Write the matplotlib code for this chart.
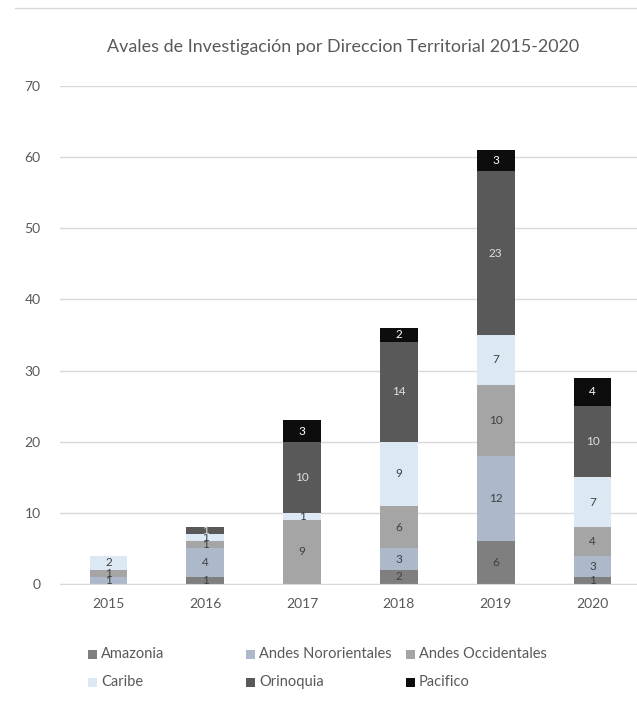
import numpy as np
import matplotlib.pyplot as plt
from matplotlib.patches import Rectangle
from matplotlib.lines import Line2D

plt.rcParams['font.family'] = ['Lato', 'DejaVu Sans']

years = ['2015', '2016', '2017', '2018', '2019', '2020']
amazonia = [0, 1, 0, 2, 6, 1]
andes_nororientales = [1, 4, 0, 3, 12, 3]
andes_occidentales = [1, 1, 9, 6, 10, 4]
caribe = [2, 1, 1, 9, 7, 7]
orinoquia = [0, 1, 10, 14, 23, 10]
pacifico = [0, 0, 3, 2, 3, 4]

series = [
    ('Amazonia', amazonia, '#7f7f7f', '#404040'),
    ('Andes Nororientales', andes_nororientales, '#adb9ca', '#404040'),
    ('Andes Occidentales', andes_occidentales, '#a5a5a5', '#404040'),
    ('Caribe', caribe, '#dde8f5', '#404040'),
    ('Orinoquia', orinoquia, '#595959', '#e0e0e0'),
    ('Pacifico', pacifico, '#0d0d0d', '#ffffff'),
]

W, H = 637, 701
fig = plt.figure(figsize=(W / 100, H / 100), dpi=100)
ax = fig.add_axes([60 / W, 1 - 584 / H, 581 / W, 498 / H])

x = np.arange(len(years))
bottom = np.zeros(len(years))
for name, vals, color, tcolor in series:
    vals = np.array(vals, dtype=float)
    bars = ax.bar(x, vals, 0.39, bottom=bottom, color=color, zorder=2)
    labels = [f'{int(v)}' if v > 0 else '' for v in vals]
    ax.bar_label(bars, labels=labels, label_type='center', fontsize=8.5,
                 color=tcolor)
    bottom += vals

ax.set_xlim(-0.5, len(years) - 0.5)
ax.set_ylim(0, 70)
ax.set_yticks(range(0, 71, 10))
ax.set_xticks(x)
ax.set_xticklabels(years)
ax.grid(axis='y', color='#d9d9d9', linewidth=1, zorder=0)
ax.set_axisbelow(True)
for s in ['top', 'right', 'left']:
    ax.spines[s].set_visible(False)
ax.spines['bottom'].set_color('#d9d9d9')
ax.tick_params(axis='both', length=0, colors='#595959', labelsize=10)
ax.tick_params(axis='y', pad=14)
ax.tick_params(axis='x', pad=10)

fig.text(343 / W, 1 - 47 / H, 'Avales de Investigación por Direccion Territorial 2015-2020',
         ha='center', va='center', fontsize=12.9, color='#595959')

# chart border line at the top
fig.add_artist(Line2D([15 / W, 1], [1 - 8 / H, 1 - 8 / H], color='#d9d9d9', lw=1))

# legend, two rows of three entries
col_x = [88, 246, 406]
row_y = [654, 682]
for i, (name, vals, color, tcolor) in enumerate(series):
    cx = col_x[i % 3]
    cy = row_y[i // 3]
    fig.add_artist(Rectangle((cx / W, (H - cy - 4.5) / H), 9 / W, 9 / H,
                             facecolor=color, edgecolor='none',
                             transform=fig.transFigure))
    fig.text((cx + 13) / W, 1 - cy / H, name, ha='left', va='center',
             fontsize=10.5, color='#595959')

fig.savefig('out.png', dpi=100)
